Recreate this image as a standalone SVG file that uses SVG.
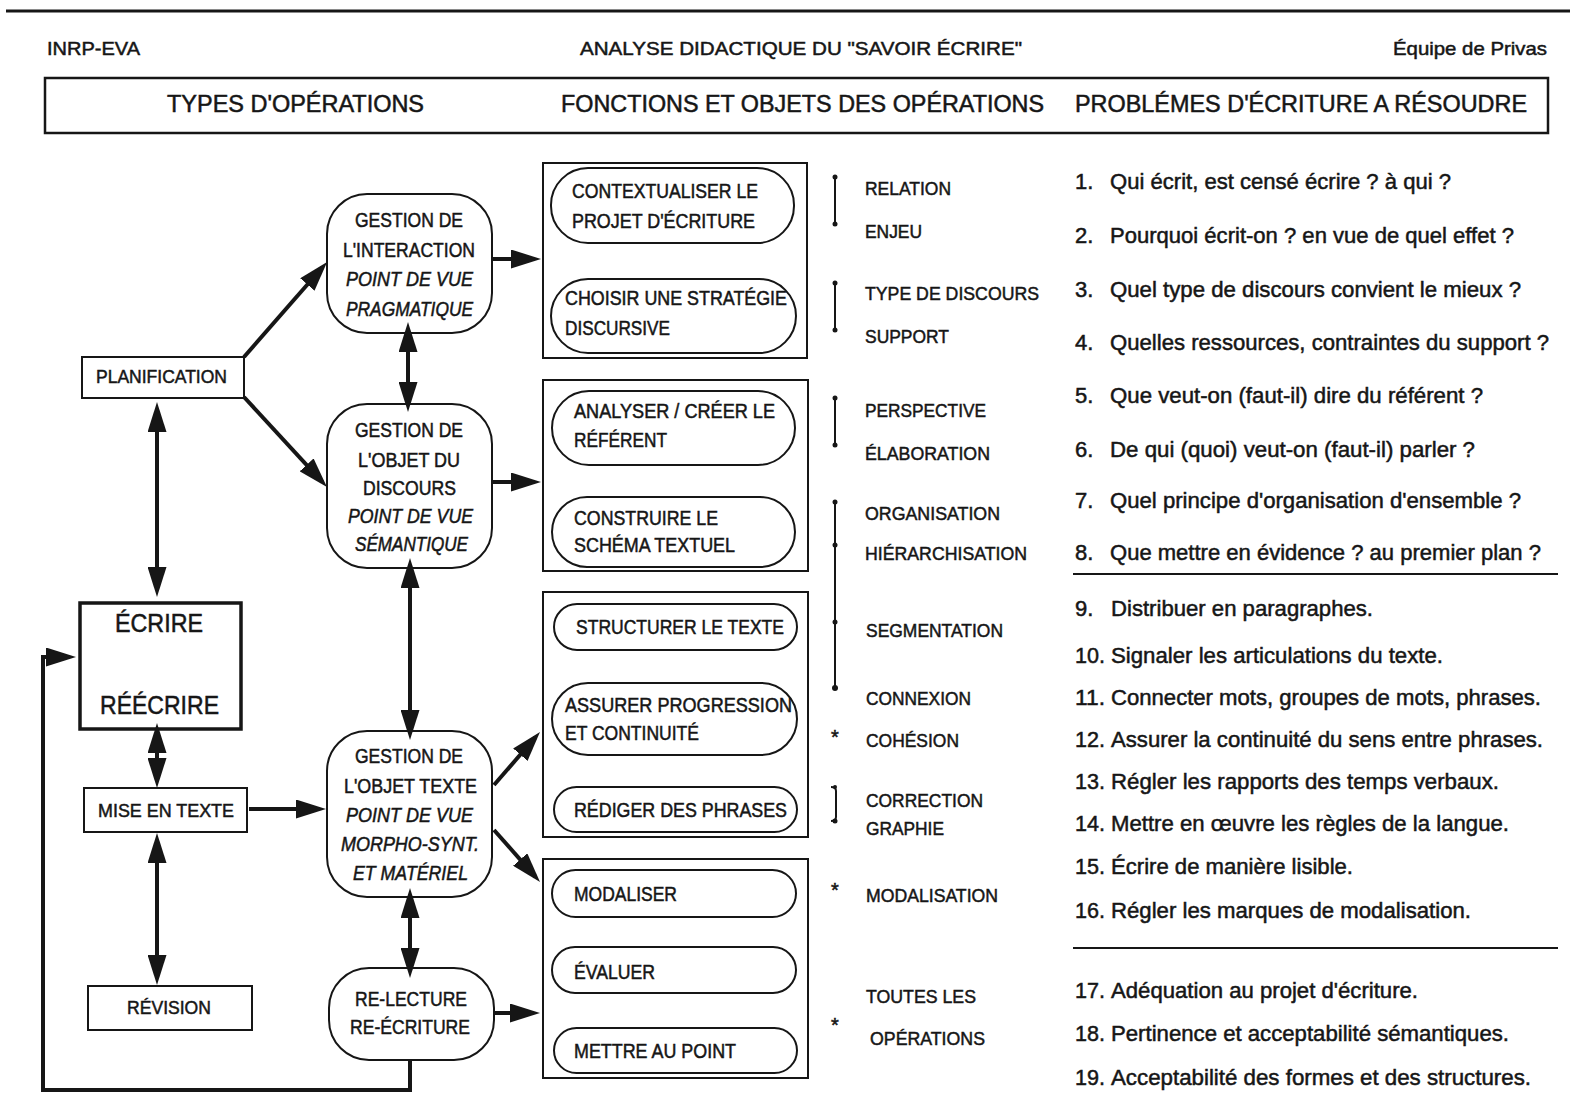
<svg xmlns="http://www.w3.org/2000/svg" width="1570" height="1109" viewBox="0 0 1570 1109">
<style>
.t{font-family:"Liberation Sans",Arial,Helvetica,sans-serif;fill:#161616;stroke:#161616;stroke-width:0.5;}
.s{font-size:20px;}
.m{font-size:22px;}
.h{font-size:23px;}
.i{font-style:italic;}
.box{fill:#fff;stroke:#161616;stroke-width:2;}
.thick{fill:#fff;stroke:#161616;stroke-width:3.5;}
.conn{stroke:#161616;stroke-width:4;fill:none;}
.br{stroke:#161616;stroke-width:2;fill:none;}
.dot{fill:#161616;}
.rule{stroke:#161616;stroke-width:2;}
</style>
<defs>
<marker id="ah" markerUnits="userSpaceOnUse" markerWidth="30" markerHeight="19" refX="23" refY="9.5" orient="auto-start-reverse">
<path d="M0,0 L30,9.5 L0,19 z" fill="#161616"/>
</marker>
</defs>
<rect width="1570" height="1109" fill="#fff"/>

<g id="header">
<line x1="6" y1="11" x2="1570" y2="11" stroke="#161616" stroke-width="3"/>
<text class="t" x="47" y="55" font-size="19" textLength="93" lengthAdjust="spacingAndGlyphs">INRP-EVA</text>
<text class="t" x="580" y="55" font-size="19" textLength="442" lengthAdjust="spacingAndGlyphs">ANALYSE DIDACTIQUE DU "SAVOIR ÉCRIRE"</text>
<text class="t" x="1393" y="55" font-size="19" textLength="154" lengthAdjust="spacingAndGlyphs">Équipe de Privas</text>
<rect x="45" y="78" width="1503" height="55" fill="none" stroke="#161616" stroke-width="2.5"/>
<text class="t h" x="167" y="112" textLength="257" lengthAdjust="spacingAndGlyphs">TYPES D'OPÉRATIONS</text>
<text class="t h" x="561" y="112" textLength="483" lengthAdjust="spacingAndGlyphs">FONCTIONS ET OBJETS DES OPÉRATIONS</text>
<text class="t h" x="1075" y="112" textLength="452" lengthAdjust="spacingAndGlyphs">PROBLÉMES D'ÉCRITURE A RÉSOUDRE</text>
</g>

<!-- left column -->
<g id="planification">
<rect class="box" x="82" y="357" width="162" height="41"/>
<text class="t" x="96" y="383" font-size="19" textLength="131" lengthAdjust="spacingAndGlyphs">PLANIFICATION</text>
</g>
<g id="ecrire">
<rect class="thick" x="80" y="603" width="161" height="126"/>
<text class="t" x="115" y="632" font-size="25" textLength="88" lengthAdjust="spacingAndGlyphs">ÉCRIRE</text>
<text class="t" x="100" y="714" font-size="25" textLength="119" lengthAdjust="spacingAndGlyphs">RÉÉCRIRE</text>
</g>
<g id="mise-en-texte">
<rect class="box" x="84" y="788" width="163" height="44"/>
<text class="t" x="98" y="817" font-size="19" textLength="136" lengthAdjust="spacingAndGlyphs">MISE EN TEXTE</text>
</g>
<g id="revision">
<rect class="box" x="88" y="986" width="164" height="44"/>
<text class="t" x="127" y="1014" font-size="19" textLength="84" lengthAdjust="spacingAndGlyphs">RÉVISION</text>
</g>

<!-- gestion column -->
<g id="gestion-interaction">
<rect class="box" x="327" y="194" width="165" height="139" rx="40"/>
<text class="t s" x="355" y="227" textLength="108" lengthAdjust="spacingAndGlyphs">GESTION DE</text>
<text class="t s" x="343" y="257" textLength="132" lengthAdjust="spacingAndGlyphs">L'INTERACTION</text>
<text class="t s i" x="346" y="286" textLength="127" lengthAdjust="spacingAndGlyphs">POINT DE VUE</text>
<text class="t s i" x="346" y="316" textLength="127" lengthAdjust="spacingAndGlyphs">PRAGMATIQUE</text>
</g>
<g id="gestion-objet-discours">
<rect class="box" x="327" y="404" width="165" height="164" rx="40"/>
<text class="t s" x="355" y="437" textLength="108" lengthAdjust="spacingAndGlyphs">GESTION DE</text>
<text class="t s" x="358" y="467" textLength="102" lengthAdjust="spacingAndGlyphs">L'OBJET DU</text>
<text class="t s" x="363" y="495" textLength="93" lengthAdjust="spacingAndGlyphs">DISCOURS</text>
<text class="t s i" x="348" y="523" textLength="125" lengthAdjust="spacingAndGlyphs">POINT DE VUE</text>
<text class="t s i" x="355" y="551" textLength="113" lengthAdjust="spacingAndGlyphs">SÉMANTIQUE</text>
</g>
<g id="gestion-objet-texte">
<rect class="box" x="327" y="731" width="165" height="166" rx="40"/>
<text class="t s" x="355" y="763" textLength="108" lengthAdjust="spacingAndGlyphs">GESTION DE</text>
<text class="t s" x="344" y="793" textLength="133" lengthAdjust="spacingAndGlyphs">L'OBJET TEXTE</text>
<text class="t s i" x="346" y="822" textLength="127" lengthAdjust="spacingAndGlyphs">POINT DE VUE</text>
<text class="t s i" x="341" y="851" textLength="138" lengthAdjust="spacingAndGlyphs">MORPHO-SYNT.</text>
<text class="t s i" x="353" y="880" textLength="115" lengthAdjust="spacingAndGlyphs">ET MATÉRIEL</text>
</g>
<g id="relecture">
<rect class="box" x="329" y="968" width="165" height="92" rx="40"/>
<text class="t s" x="355" y="1006" textLength="112" lengthAdjust="spacingAndGlyphs">RE-LECTURE</text>
<text class="t s" x="350" y="1034" textLength="120" lengthAdjust="spacingAndGlyphs">RE-ÉCRITURE</text>
</g>

<!-- function boxes -->
<g id="bloc-interaction">
<rect class="box" x="543" y="163" width="264" height="195"/>
<rect class="box" x="551" y="168" width="243" height="75" rx="37"/>
<text class="t s" x="572" y="198" textLength="186" lengthAdjust="spacingAndGlyphs">CONTEXTUALISER LE</text>
<text class="t s" x="572" y="228" textLength="183" lengthAdjust="spacingAndGlyphs">PROJET D'ÉCRITURE</text>
<rect class="box" x="551" y="279" width="245" height="74" rx="37"/>
<text class="t s" x="565" y="305" textLength="222" lengthAdjust="spacingAndGlyphs">CHOISIR UNE STRATÉGIE</text>
<text class="t s" x="565" y="335" textLength="105" lengthAdjust="spacingAndGlyphs">DISCURSIVE</text>
</g>
<g id="bloc-discours">
<rect class="box" x="543" y="380" width="265" height="191"/>
<rect class="box" x="552" y="391" width="243" height="74" rx="37"/>
<text class="t s" x="574" y="418" textLength="201" lengthAdjust="spacingAndGlyphs">ANALYSER / CRÉER LE</text>
<text class="t s" x="574" y="447" textLength="93" lengthAdjust="spacingAndGlyphs">RÉFÉRENT</text>
<rect class="box" x="552" y="497" width="243" height="70" rx="35"/>
<text class="t s" x="574" y="525" textLength="144" lengthAdjust="spacingAndGlyphs">CONSTRUIRE LE</text>
<text class="t s" x="574" y="552" textLength="161" lengthAdjust="spacingAndGlyphs">SCHÉMA TEXTUEL</text>
</g>
<g id="bloc-texte">
<rect class="box" x="543" y="592" width="265" height="245"/>
<rect class="box" x="554" y="604" width="243" height="46" rx="23"/>
<text class="t s" x="576" y="634" textLength="208" lengthAdjust="spacingAndGlyphs">STRUCTURER LE TEXTE</text>
<rect class="box" x="552" y="683" width="245" height="72" rx="36"/>
<text class="t s" x="565" y="712" textLength="227" lengthAdjust="spacingAndGlyphs">ASSURER PROGRESSION</text>
<text class="t s" x="565" y="740" textLength="134" lengthAdjust="spacingAndGlyphs">ET CONTINUITÉ</text>
<rect class="box" x="554" y="787" width="243" height="45" rx="22.5"/>
<text class="t s" x="574" y="817" textLength="213" lengthAdjust="spacingAndGlyphs">RÉDIGER DES PHRASES</text>
</g>
<g id="bloc-revision">
<rect class="box" x="543" y="859" width="265" height="219"/>
<rect class="box" x="552" y="870" width="244" height="47" rx="23.5"/>
<text class="t s" x="574" y="901" textLength="103" lengthAdjust="spacingAndGlyphs">MODALISER</text>
<rect class="box" x="552" y="947" width="244" height="46" rx="23"/>
<text class="t s" x="574" y="979" textLength="81" lengthAdjust="spacingAndGlyphs">ÉVALUER</text>
<rect class="box" x="554" y="1028" width="243" height="45" rx="22.5"/>
<text class="t s" x="574" y="1058" textLength="162" lengthAdjust="spacingAndGlyphs">METTRE AU POINT</text>
</g>

<!-- objects column -->
<g id="objets">
<line class="br" x1="835" y1="177" x2="835" y2="224"/>
<circle class="dot" cx="835" cy="177" r="2.5"/><circle class="dot" cx="835" cy="224" r="2.5"/>
<line class="br" x1="835" y1="283" x2="835" y2="330"/>
<circle class="dot" cx="835" cy="283" r="2.5"/><circle class="dot" cx="835" cy="330" r="2.5"/>
<line class="br" x1="835" y1="398" x2="835" y2="445"/>
<circle class="dot" cx="835" cy="398" r="2.5"/><circle class="dot" cx="835" cy="445" r="2.5"/>
<line class="br" x1="835" y1="502" x2="835" y2="688"/>
<circle class="dot" cx="835" cy="502" r="2.5"/><circle class="dot" cx="835" cy="545" r="2.5"/>
<circle class="dot" cx="835" cy="622" r="2.5"/><circle class="dot" cx="835" cy="688" r="3"/>
<text class="t" x="835" y="744" font-size="20" text-anchor="middle">*</text>
<path class="br" d="M831,787 Q836,787 836,791 L836,817 Q836,821 831,821"/>
<circle class="dot" cx="835" cy="787" r="2"/><circle class="dot" cx="835" cy="821" r="2.5"/>
<text class="t" x="835" y="897" font-size="20" text-anchor="middle">*</text>
<text class="t" x="835" y="1032" font-size="20" text-anchor="middle">*</text>

<text class="t" x="865" y="195" font-size="19" textLength="86" lengthAdjust="spacingAndGlyphs">RELATION</text>
<text class="t" x="865" y="238" font-size="19" textLength="57" lengthAdjust="spacingAndGlyphs">ENJEU</text>
<text class="t" x="865" y="300" font-size="19" textLength="174" lengthAdjust="spacingAndGlyphs">TYPE DE DISCOURS</text>
<text class="t" x="865" y="343" font-size="19" textLength="84" lengthAdjust="spacingAndGlyphs">SUPPORT</text>
<text class="t" x="865" y="417" font-size="19" textLength="121" lengthAdjust="spacingAndGlyphs">PERSPECTIVE</text>
<text class="t" x="865" y="460" font-size="19" textLength="125" lengthAdjust="spacingAndGlyphs">ÉLABORATION</text>
<text class="t" x="865" y="520" font-size="19" textLength="135" lengthAdjust="spacingAndGlyphs">ORGANISATION</text>
<text class="t" x="865" y="560" font-size="19" textLength="162" lengthAdjust="spacingAndGlyphs">HIÉRARCHISATION</text>
<text class="t" x="866" y="637" font-size="19" textLength="137" lengthAdjust="spacingAndGlyphs">SEGMENTATION</text>
<text class="t" x="866" y="705" font-size="19" textLength="105" lengthAdjust="spacingAndGlyphs">CONNEXION</text>
<text class="t" x="866" y="747" font-size="19" textLength="93" lengthAdjust="spacingAndGlyphs">COHÉSION</text>
<text class="t" x="866" y="807" font-size="19" textLength="117" lengthAdjust="spacingAndGlyphs">CORRECTION</text>
<text class="t" x="866" y="835" font-size="19" textLength="78" lengthAdjust="spacingAndGlyphs">GRAPHIE</text>
<text class="t" x="866" y="902" font-size="19" textLength="132" lengthAdjust="spacingAndGlyphs">MODALISATION</text>
<text class="t" x="866" y="1003" font-size="19" textLength="110" lengthAdjust="spacingAndGlyphs">TOUTES LES</text>
<text class="t" x="870" y="1045" font-size="19" textLength="115" lengthAdjust="spacingAndGlyphs">OPÉRATIONS</text>
</g>

<!-- problems column -->
<g id="problemes">
<text class="t m" x="1075" y="189">1.</text>
<text class="t m" x="1110" y="189" textLength="341" lengthAdjust="spacingAndGlyphs">Qui écrit, est censé écrire ? à qui ?</text>
<text class="t m" x="1075" y="243">2.</text>
<text class="t m" x="1110" y="243" textLength="404" lengthAdjust="spacingAndGlyphs">Pourquoi écrit-on ? en vue de quel effet ?</text>
<text class="t m" x="1075" y="297">3.</text>
<text class="t m" x="1110" y="297" textLength="411" lengthAdjust="spacingAndGlyphs">Quel type de discours convient le mieux ?</text>
<text class="t m" x="1075" y="350">4.</text>
<text class="t m" x="1110" y="350" textLength="439" lengthAdjust="spacingAndGlyphs">Quelles ressources, contraintes du support ?</text>
<text class="t m" x="1075" y="403">5.</text>
<text class="t m" x="1110" y="403" textLength="373" lengthAdjust="spacingAndGlyphs">Que veut-on (faut-il) dire du référent ?</text>
<text class="t m" x="1075" y="457">6.</text>
<text class="t m" x="1110" y="457" textLength="365" lengthAdjust="spacingAndGlyphs">De qui (quoi) veut-on (faut-il) parler ?</text>
<text class="t m" x="1075" y="508">7.</text>
<text class="t m" x="1110" y="508" textLength="411" lengthAdjust="spacingAndGlyphs">Quel principe d'organisation d'ensemble ?</text>
<text class="t m" x="1075" y="560">8.</text>
<text class="t m" x="1110" y="560" textLength="431" lengthAdjust="spacingAndGlyphs">Que mettre en évidence ? au premier plan ?</text>
<line class="rule" x1="1073" y1="574" x2="1558" y2="574"/>
<text class="t m" x="1075" y="616">9.</text>
<text class="t m" x="1111" y="616" textLength="262" lengthAdjust="spacingAndGlyphs">Distribuer en paragraphes.</text>
<text class="t m" x="1075" y="663" textLength="30" lengthAdjust="spacingAndGlyphs">10.</text>
<text class="t m" x="1111" y="663" textLength="332" lengthAdjust="spacingAndGlyphs">Signaler les articulations du texte.</text>
<text class="t m" x="1075" y="705" textLength="30" lengthAdjust="spacingAndGlyphs">11.</text>
<text class="t m" x="1111" y="705" textLength="430" lengthAdjust="spacingAndGlyphs">Connecter mots, groupes de mots, phrases.</text>
<text class="t m" x="1075" y="747" textLength="30" lengthAdjust="spacingAndGlyphs">12.</text>
<text class="t m" x="1111" y="747" textLength="432" lengthAdjust="spacingAndGlyphs">Assurer la continuité du sens entre phrases.</text>
<text class="t m" x="1075" y="789" textLength="30" lengthAdjust="spacingAndGlyphs">13.</text>
<text class="t m" x="1111" y="789" textLength="388" lengthAdjust="spacingAndGlyphs">Régler les rapports des temps verbaux.</text>
<text class="t m" x="1075" y="831" textLength="30" lengthAdjust="spacingAndGlyphs">14.</text>
<text class="t m" x="1111" y="831" textLength="398" lengthAdjust="spacingAndGlyphs">Mettre en œuvre les règles de la langue.</text>
<text class="t m" x="1075" y="874" textLength="30" lengthAdjust="spacingAndGlyphs">15.</text>
<text class="t m" x="1111" y="874" textLength="242" lengthAdjust="spacingAndGlyphs">Écrire de manière lisible.</text>
<text class="t m" x="1075" y="918" textLength="30" lengthAdjust="spacingAndGlyphs">16.</text>
<text class="t m" x="1111" y="918" textLength="360" lengthAdjust="spacingAndGlyphs">Régler les marques de modalisation.</text>
<line class="rule" x1="1073" y1="948" x2="1558" y2="948"/>
<text class="t m" x="1075" y="998" textLength="30" lengthAdjust="spacingAndGlyphs">17.</text>
<text class="t m" x="1111" y="998" textLength="307" lengthAdjust="spacingAndGlyphs">Adéquation au projet d'écriture.</text>
<text class="t m" x="1075" y="1041" textLength="30" lengthAdjust="spacingAndGlyphs">18.</text>
<text class="t m" x="1111" y="1041" textLength="398" lengthAdjust="spacingAndGlyphs">Pertinence et acceptabilité sémantiques.</text>
<text class="t m" x="1075" y="1085" textLength="30" lengthAdjust="spacingAndGlyphs">19.</text>
<text class="t m" x="1111" y="1085" textLength="420" lengthAdjust="spacingAndGlyphs">Acceptabilité des formes et des structures.</text>
</g>

<g id="connectors">
<line class="conn" x1="244" y1="357" x2="322.5" y2="267.3" marker-end="url(#ah)"/>
<line class="conn" x1="244" y1="397" x2="322.2" y2="481.8" marker-end="url(#ah)"/>
<line class="conn" x1="492" y1="259" x2="534" y2="259" marker-end="url(#ah)"/>
<line class="conn" x1="492" y1="482" x2="534" y2="482" marker-end="url(#ah)"/>
<line class="conn" x1="408" y1="329" x2="408" y2="405" marker-start="url(#ah)" marker-end="url(#ah)"/>
<line class="conn" x1="157" y1="409" x2="157" y2="590" marker-start="url(#ah)" marker-end="url(#ah)"/>
<line class="conn" x1="410" y1="565" x2="410" y2="733" marker-start="url(#ah)" marker-end="url(#ah)"/>
<line class="conn" x1="157" y1="730" x2="157" y2="781" marker-start="url(#ah)" marker-end="url(#ah)"/>
<line class="conn" x1="249" y1="809" x2="319" y2="809" marker-end="url(#ah)"/>
<line class="conn" x1="157" y1="840" x2="157" y2="978" marker-start="url(#ah)" marker-end="url(#ah)"/>
<line class="conn" x1="494" y1="785" x2="535.4" y2="737.3" marker-end="url(#ah)"/>
<line class="conn" x1="494" y1="830" x2="535.4" y2="876.8" marker-end="url(#ah)"/>
<line class="conn" x1="410" y1="895" x2="410" y2="971" marker-start="url(#ah)" marker-end="url(#ah)"/>
<line class="conn" x1="494" y1="1013" x2="533" y2="1013" marker-end="url(#ah)"/>
<polyline class="conn" points="410,1060 410,1090 43,1090 43,657 69,657" marker-end="url(#ah)"/>
</g>
</svg>
